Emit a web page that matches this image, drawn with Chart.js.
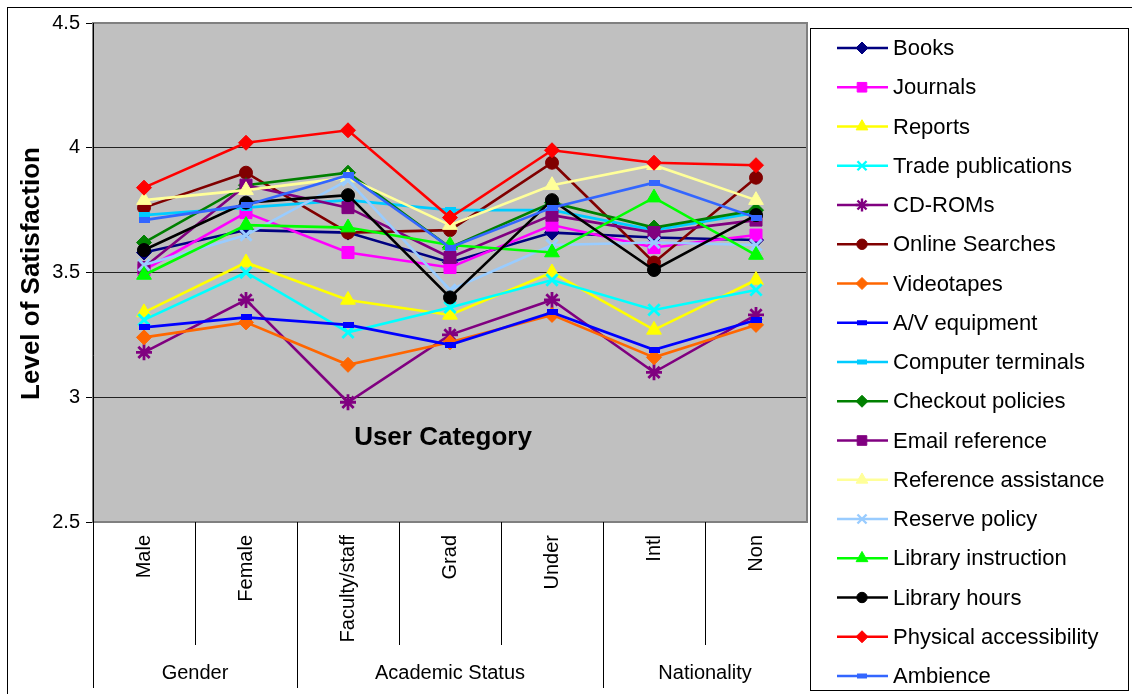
<!DOCTYPE html>
<html>
<head>
<meta charset="utf-8">
<script src="https://cdn.jsdelivr.net/npm/chart.js@4.4.1/dist/chart.umd.min.js"></script>
<style>
  html, body { margin:0; padding:0; background:#fff; }
  #wrap { position:relative; width:1132px; height:694px; overflow:hidden; }
  #frame { position:absolute; left:7px; top:7px; width:1200px; height:800px; border:1px solid #000; box-sizing:border-box; pointer-events:none; }
  canvas { position:absolute; left:0; top:0; }
</style>
</head>
<body>
<div id="wrap">
  <canvas id="c" width="1132" height="694"></canvas>
  <div id="frame"></div>
</div>
<script>
// ---------------- DATA ----------------
const categories = ['Male', 'Female', 'Faculty/staff', 'Grad', 'Under', 'Intl', 'Non'];
const groupNames = ['Gender', 'Academic Status', 'Nationality'];
const groupSizes = [2, 3, 2];
const yTicks = [2.5, 3, 3.5, 4, 4.5];
const yTickLabels = ['2.5', '3', '3.5', '4', '4.5'];

const seriesNames = ['Books', 'Journals', 'Reports', 'Trade publications', 'CD-ROMs', 'Online Searches',
  'Videotapes', 'A/V equipment', 'Computer terminals', 'Checkout policies', 'Email reference',
  'Reference assistance', 'Reserve policy', 'Library instruction', 'Library hours',
  'Physical accessibility', 'Ambience'];

const books       = [3.58, 3.67, 3.66, 3.54, 3.66, 3.64, 3.63];
const journals    = [3.51, 3.74, 3.58, 3.52, 3.69, 3.60, 3.65];
const reports     = [3.34, 3.54, 3.39, 3.33, 3.50, 3.27, 3.47];
const tradePubs   = [3.31, 3.50, 3.26, 3.36, 3.47, 3.35, 3.43];
const cdRoms      = [3.18, 3.39, 2.98, 3.25, 3.39, 3.10, 3.33];
const onlineSrch  = [3.76, 3.90, 3.66, 3.67, 3.94, 3.54, 3.88];
const videotapes  = [3.24, 3.30, 3.13, 3.22, 3.33, 3.16, 3.29];
const avEquip     = [3.28, 3.32, 3.29, 3.21, 3.34, 3.19, 3.31];
const compTerm    = [3.73, 3.76, 3.79, 3.75, 3.75, 3.67, 3.74];
const checkout    = [3.62, 3.85, 3.90, 3.60, 3.78, 3.68, 3.75];
const emailRef    = [3.52, 3.85, 3.76, 3.56, 3.73, 3.66, 3.71];
const refAssist   = [3.79, 3.83, 3.88, 3.69, 3.85, 3.93, 3.79];
const reserve     = [3.53, 3.65, 3.87, 3.43, 3.61, 3.62, 3.61];
const libInstr    = [3.49, 3.69, 3.68, 3.61, 3.58, 3.80, 3.57];
const libHours    = [3.59, 3.78, 3.81, 3.40, 3.79, 3.51, 3.73];
const physAccess  = [3.84, 4.02, 4.07, 3.72, 3.99, 3.94, 3.93];
const ambience    = [3.71, 3.77, 3.89, 3.60, 3.76, 3.86, 3.72];

const seriesData = [books, journals, reports, tradePubs, cdRoms, onlineSrch, videotapes, avEquip,
  compTerm, checkout, emailRef, refAssist, reserve, libInstr, libHours, physAccess, ambience];

// ---------------- STYLES ----------------
const seriesColors = ['#000080', '#FF00FF', '#FFFF00', '#00FFFF', '#800080', '#800000', '#FF6600', '#0000FF',
  '#00CCFF', '#008000', '#800080', '#FFFF99', '#99CCFF', '#00FF00', '#000000', '#FF0000', '#3366FF'];
const seriesMarkers = ['rectRot', 'rect', 'triangle', 'crossRot', 'star', 'circle', 'rectRot', 'dash',
  'dash', 'rectRot', 'rect', 'triangle', 'crossRot', 'triangle', 'circle', 'rectRot', 'dash'];

function dashImg(color, w, h) {
  const c = document.createElement('canvas');
  c.width = w; c.height = h;
  const g = c.getContext('2d');
  g.fillStyle = color; g.fillRect(0, 0, w, h);
  return c;
}
function markerRadius(m) {
  return { rectRot: 7.5, rect: 8.5, triangle: 8.5, crossRot: 8, star: 8, circle: 6.5 }[m] || 6;
}

const FONT = 'Arial, "Liberation Sans", sans-serif';

const datasets = seriesNames.map((name, i) => {
  const m = seriesMarkers[i];
  const col = seriesColors[i];
  const isLineMarker = (m === 'crossRot' || m === 'star');
  return {
    label: name,
    data: seriesData[i],
    borderColor: col,
    backgroundColor: col,
    borderWidth: 2.6,
    tension: 0,
    pointStyle: m === 'dash' ? dashImg(col, 11, 6) : m,
    pointRadius: markerRadius(m),
    pointHoverRadius: markerRadius(m),
    pointBackgroundColor: col,
    pointBorderColor: col,
    pointBorderWidth: isLineMarker ? 2.8 : 1,
    order: seriesNames.length - 1 - i
  };
});

// ---------------- PLUGIN: decorations ----------------
const deco = {
  id: 'deco',
  beforeDraw(chart) {
    const { ctx, chartArea: a } = chart;
    ctx.save();
    ctx.fillStyle = '#C0C0C0';
    ctx.fillRect(a.left, a.top, a.right - a.left, a.bottom - a.top);
    ctx.restore();
  },
  beforeDatasetsDraw(chart) {
    const { ctx, chartArea: a, scales } = chart;
    const xs = scales.x;
    ctx.save();
    ctx.strokeStyle = '#808080';
    ctx.lineWidth = 2;
    ctx.strokeRect(a.left, a.top, a.right - a.left, a.bottom - a.top);
    ctx.strokeStyle = '#000';
    ctx.lineWidth = 1;
    ctx.beginPath();
    ctx.moveTo(a.left + 0.5, a.top);
    ctx.lineTo(a.left + 0.5, 688);
    ctx.stroke();
    const px = categories.map((_, i) => xs.getPixelForValue(i));
    const groupEnds = [];
    let acc = 0;
    groupSizes.forEach(s => { acc += s; groupEnds.push(acc); });
    for (let i = 1; i < categories.length; i++) {
      const bx = Math.round((px[i - 1] + px[i]) / 2) + 0.5;
      const isGroup = groupEnds.includes(i);
      ctx.beginPath();
      ctx.moveTo(bx, a.bottom);
      ctx.lineTo(bx, isGroup ? 688 : 645);
      ctx.stroke();
    }
    ctx.fillStyle = '#000';
    ctx.font = '20px ' + FONT;
    ctx.textAlign = 'center';
    ctx.textBaseline = 'middle';
    let start = 0;
    groupNames.forEach((g, k) => {
      const end = start + groupSizes[k] - 1;
      const cx = (px[start] + px[end]) / 2;
      ctx.fillText(g, cx, 673);
      start += groupSizes[k];
    });
    ctx.font = 'bold 26px ' + FONT;
    ctx.fillText('User Category', 443, 438);
    ctx.save();
    ctx.translate(32, (a.top + a.bottom) / 2 + 1);
    ctx.rotate(-Math.PI / 2);
    ctx.fillText('Level of Satisfaction', 0, 0);
    ctx.restore();
    ctx.restore();
  },
  afterDraw(chart) {
    const { ctx } = chart;
    ctx.save();
    ctx.strokeStyle = '#000';
    ctx.lineWidth = 1;
    ctx.strokeRect(810.5, 28.5, 318, 662);
    const n = chart.data.datasets.length;
    chart.data.datasets.forEach((ds, i) => {
      const y = 48 + i * (628 / (n - 1));
      ctx.strokeStyle = ds.borderColor;
      ctx.lineWidth = 2.6;
      ctx.beginPath();
      ctx.moveTo(837, y); ctx.lineTo(888, y);
      ctx.stroke();
      const m = seriesMarkers[i];
      ctx.fillStyle = ds.borderColor;
      ctx.strokeStyle = ds.borderColor;
      if (m === 'dash') {
        ctx.fillRect(857, y - 2.5, 10, 5);
      } else {
        ctx.lineWidth = (m === 'crossRot' || m === 'star') ? 2.4 : 1;
        Chart.helpers.drawPoint(ctx, { pointStyle: m, radius: markerRadius(m) * 0.8, rotation: 0, borderWidth: ctx.lineWidth }, 862, y);
      }
      ctx.fillStyle = '#000';
      ctx.font = '22px ' + FONT;
      ctx.textAlign = 'left';
      ctx.textBaseline = 'middle';
      ctx.fillText(ds.label, 893, y + 1);
    });
    ctx.restore();
  }
};

// ---------------- CHART ----------------
new Chart(document.getElementById('c'), {
  type: 'line',
  data: { labels: categories, datasets },
  options: {
    responsive: false,
    animation: false,
    devicePixelRatio: 1,
    layout: { padding: { left: 0, top: 23, right: 325, bottom: 0 } },
    plugins: { legend: { display: false }, tooltip: { enabled: false }, title: { display: false } },
    scales: {
      x: {
        type: 'category',
        offset: true,
        grid: { display: false, drawTicks: false },
        border: { display: false },
        ticks: { autoSkip: false, minRotation: 90, maxRotation: 90, padding: 13, color: '#000', font: { size: 20, family: FONT } },
        afterFit(s) { s.height = 172; }
      },
      y: {
        min: 2.5, max: 4.5,
        afterBuildTicks(s) { s.ticks = yTicks.map(v => ({ value: v })); },
        ticks: {
          color: '#000', padding: 6, font: { size: 20, family: FONT },
          callback: (v) => { const k = yTicks.indexOf(v); return k >= 0 ? yTickLabels[k] : ''; }
        },
        grid: {
          color: (c) => (c.tick && (c.tick.value === 2.5 || c.tick.value === 4.5)) ? 'rgba(0,0,0,0)' : '#222',
          tickColor: '#000',
          tickLength: 7,
          drawTicks: true,
          lineWidth: 1
        },
        border: { display: false },
        afterFit(s) { s.width = 93; }
      }
    }
  },
  plugins: [deco]
});
</script>
</body>
</html>
